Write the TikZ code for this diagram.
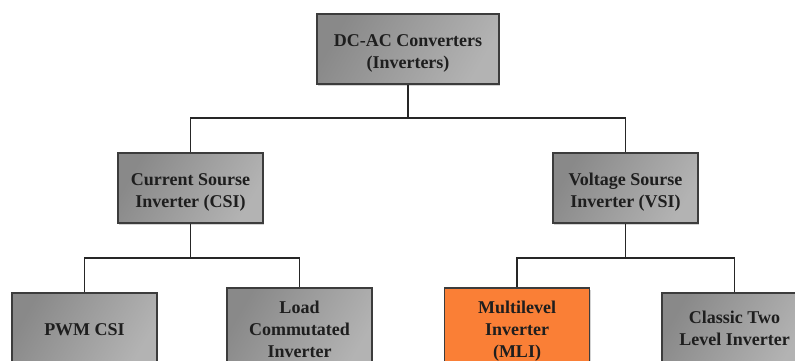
\documentclass[tikz,border=0pt]{standalone}
\usepackage{fontspec}
\setmainfont{Liberation Serif}
\usetikzlibrary{shadows}
\definecolor{boxdark}{HTML}{898989}
\definecolor{boxlight}{HTML}{B3B3B3}
\definecolor{boxedge}{HTML}{3C3C3C}
\definecolor{orangebox}{HTML}{FA7F36}
\definecolor{txt}{HTML}{1E1E1E}
\newcommand{\lowtext}[2][4pt]{\raisebox{-#1}[\height][\depth]{\begin{tabular}{@{}c@{}}#2\end{tabular}}}
\tikzset{
  box/.style={draw=boxedge, line width=1.6pt, left color=boxdark, right color=boxlight,
    shading angle=60,
    minimum width=145pt, minimum height=70pt, text=txt,
    font=\fontsize{18}{22}\selectfont\bfseries, inner sep=2pt,
    drop shadow={shadow xshift=1.2pt, shadow yshift=-1.5pt, opacity=0.35}},
  obox/.style={box, left color=orangebox, right color=orangebox},
  conn/.style={draw=black!85, line width=1.4pt}
}
\begin{document}
\begin{tikzpicture}[x=1pt,y=-1pt]
\useasboundingbox (0,0) rectangle (795,360);
\node[box, minimum width=182pt] (top) at (408,49) {\lowtext{DC-AC Converters\\(Inverters)}};
\node[box] (csi) at (190.5,188) {\lowtext{Current Sourse\\Inverter (CSI)}};
\node[box] (vsi) at (625.5,188) {\lowtext{Voltage Sourse\\Inverter (VSI)}};
\node[box, minimum height=72pt] (pwm) at (84.5,329) {\lowtext[2pt]{PWM CSI}};
\node[box, minimum height=82pt] (lci) at (299.5,329) {\lowtext[2pt]{Load\\Commutated\\Inverter}};
\node[obox, minimum height=82pt] (mli) at (517,329) {\lowtext[2pt]{Multilevel\\Inverter\\(MLI)}};
\node[box, minimum height=71pt] (ctl) at (734.5,328.5) {\lowtext[2pt]{Classic Two\\Level Inverter}};
\coordinate (j1) at (408,118);
\coordinate (j2) at (190.5,258);
\coordinate (j3) at (625.5,258);
\draw[conn] (top.south) -- (j1);
\draw[conn] (j1) -| (csi.north);
\draw[conn] (j1) -| (vsi.north);
\draw[conn] (csi.south) -- (j2);
\draw[conn] (j2) -| (pwm.north);
\draw[conn] (j2) -| (lci.north);
\draw[conn] (vsi.south) -- (j3);
\draw[conn] (j3) -| (mli.north);
\draw[conn] (j3) -| (ctl.north);
\end{tikzpicture}
\end{document}
